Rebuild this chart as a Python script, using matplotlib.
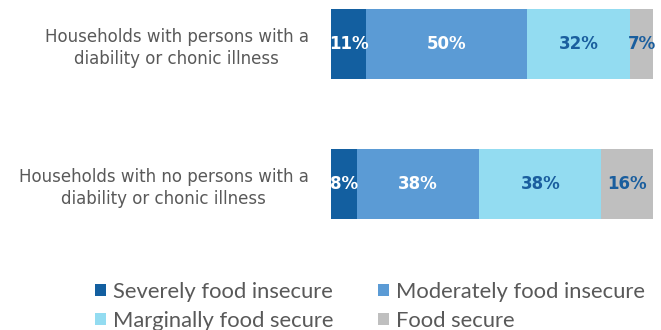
import matplotlib
matplotlib.use("Agg")
import matplotlib.pyplot as plt
import numpy as np

categories = ["Households with persons with a\ndiability or chonic illness",
              "Households with no persons with a\ndiability or chonic illness"]
series_names = ["Severely food insecure", "Moderately food insecure",
                "Marginally food secure", "Food secure"]
severe = [11, 8]
moderate = [50, 38]
marginal = [32, 38]
secure = [7, 16]

colors = ["#135fa0", "#5b9bd5", "#93dcf1", "#bfbfbf"]
label_colors = ["white", "white", "#1a5e9e", "#1a5e9e"]

plt.rcParams['font.family'] = ['Lato', 'DejaVu Sans']

fig = plt.figure(figsize=(6.61, 3.30), dpi=100)
ax = fig.add_axes([331/661, 1 - 226/330, 322/661, 224/330])

y = np.arange(len(categories))
left = np.zeros(len(categories))
for name, vals, c, lc in zip(series_names, [severe, moderate, marginal, secure], colors, label_colors):
    vals = np.array(vals, dtype=float)
    ax.barh(y, vals, left=left, height=0.5, color=c, label=name)
    for yi, (l, v) in enumerate(zip(left, vals)):
        ax.text(l + v / 2, yi, f"{int(v)}%", ha='center', va='center',
                color=lc, fontsize=12, fontweight='bold', family=['DejaVu Sans'])
    left += vals

ax.set_xlim(0, 100)
ax.set_ylim(1.3, -0.3)
ax.set_yticks(y)
ax.set_yticklabels(categories, fontsize=12, color="#595959", multialignment='center',
                   family=['DejaVu Sans'], linespacing=1.3)
ax.tick_params(axis='y', length=0, pad=16)
ax.tick_params(axis='x', bottom=False, labelbottom=False)
for s in ax.spines.values():
    s.set_visible(False)

handles, labels = ax.get_legend_handles_labels()
order = [0, 2, 1, 3]
leg = fig.legend([handles[i] for i in order], [labels[i] for i in order], ncol=2,
                 loc='upper left',
                 bbox_to_anchor=(95/661, 1 - 282/330), frameon=False,
                 fontsize=15.8, labelcolor="#595959", handlelength=0.5,
                 handleheight=0.5, handletextpad=0.3, columnspacing=2.05,
                 labelspacing=0.4, borderpad=0, borderaxespad=0)

fig.savefig("out.png", dpi=100)
